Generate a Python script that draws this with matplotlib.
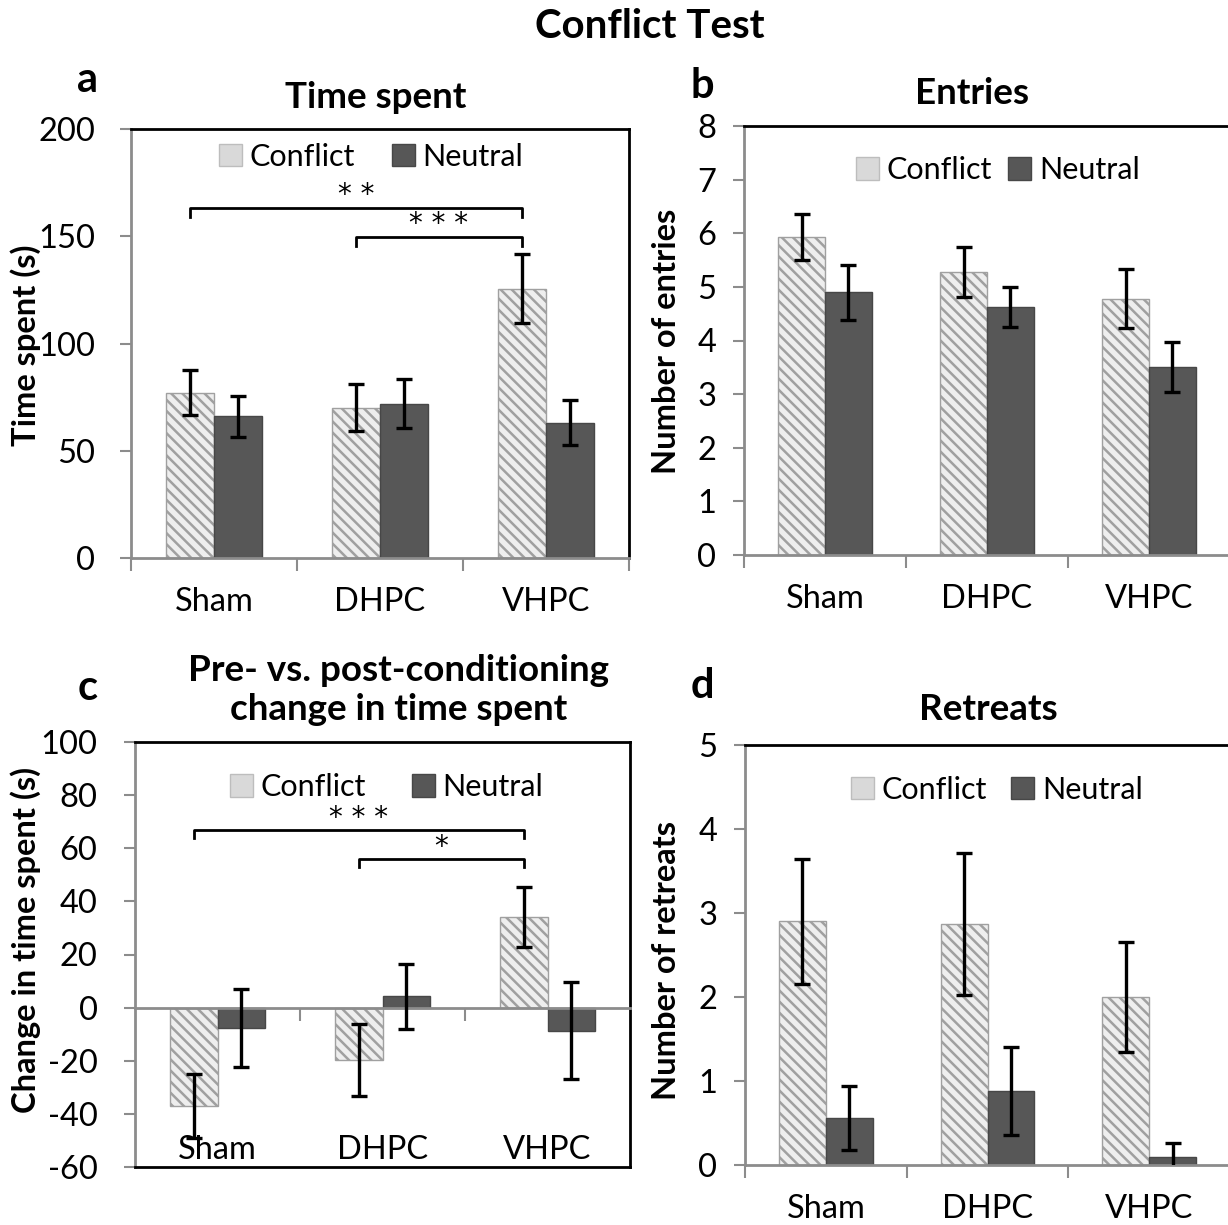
import matplotlib
matplotlib.use('Agg')
import matplotlib.pyplot as plt
from matplotlib.patches import Patch
import numpy as np

plt.rcParams['font.family'] = ['Lato', 'DejaVu Sans']
plt.rcParams['hatch.linewidth'] = 1.8
plt.rcParams['axes.unicode_minus'] = False

groups = ['Sham', 'DHPC', 'VHPC']
series = ['Conflict', 'Neutral']

time_conflict = [77, 70, 125.5]
time_conflict_err = [10.5, 11, 16]
time_neutral = [66, 72, 63]
time_neutral_err = [9.5, 11.5, 10.5]

entries_conflict = [5.93, 5.28, 4.78]
entries_conflict_err = [0.42, 0.47, 0.55]
entries_neutral = [4.90, 4.63, 3.51]
entries_neutral_err = [0.51, 0.37, 0.47]

change_conflict = [-37.0, -19.7, 34.2]
change_conflict_err = [12.2, 13.5, 11.3]
change_neutral = [-7.7, 4.2, -8.7]
change_neutral_err = [14.7, 12.1, 18.3]

retreats_conflict = [2.90, 2.87, 2.00]
retreats_conflict_err = [0.74, 0.85, 0.65]
retreats_neutral = [0.56, 0.88, 0.10]
retreats_neutral_err = [0.38, 0.52, 0.16]

# significance brackets: (group from, group to, height, label)
sig_time = [(0, 2, 163, '**'), (1, 2, 149.6, '***')]
sig_change = [(0, 2, 66.9, '***'), (1, 2, 56.0, '*')]

W, H = 1228, 1225
fig = plt.figure(figsize=(W / 100, H / 100), dpi=100)


def box(l, t, r, b):
    return [l / W, 1 - b / H, (r - l) / W, (b - t) / H]


GREY = '#8c8c8c'
C_FACE = '#eeeeee'
C_HATCH = '#a0a0a0'
N_FACE = '#575757'
BW = 0.29
TICK_FS = 23.5
CAT_FS = 23.5
TITLE_FS = 26.5
YLAB_FS = 23.5


def panel(rect, cv, ce, nv, ne, ylim, yticks, ypad, leg_xy, colsp, zero_axis=False):
    ax = fig.add_axes(rect)
    x = np.arange(len(groups))
    ax.bar(x - BW / 2, cv, BW, color=C_FACE, edgecolor=C_HATCH, hatch='\\\\\\', lw=1, zorder=2)
    ax.bar(x + BW / 2, nv, BW, color=N_FACE, edgecolor='#474747', lw=1, zorder=2)
    ax.errorbar(x - BW / 2, cv, yerr=ce, fmt='none', ecolor='k', elinewidth=2.4,
                capsize=6, capthick=2.4, zorder=3)
    ax.errorbar(x + BW / 2, nv, yerr=ne, fmt='none', ecolor='k', elinewidth=2.4,
                capsize=6, capthick=2.4, zorder=3)
    ax.set_xlim(-0.5, len(groups) - 0.5)
    ax.set_ylim(*ylim)
    ax.set_yticks(yticks)
    ax.tick_params(axis='y', direction='out', length=8, width=1.5, color=GREY,
                   labelsize=TICK_FS, pad=ypad)
    for s in ['top', 'right']:
        ax.spines[s].set_color('k')
        ax.spines[s].set_linewidth(2)
    for s in ['left', 'bottom']:
        ax.spines[s].set_color(GREY)
        ax.spines[s].set_linewidth(2)
    ax.set_xticks(np.arange(len(groups) + 1) - 0.5)
    ax.set_xticklabels([])
    ax.tick_params(axis='x', which='major', direction='out', length=9, width=1.5, color=GREY)
    if zero_axis:
        ax.spines['bottom'].set_position(('data', 0))
        ax.set_xticks([0.5, 1.5])
        ax.set_xticklabels([])
        ax.plot([0, 1], [0, 0], transform=ax.transAxes, color='k', lw=2, clip_on=False, zorder=5)
    else:
        ax.set_xticks(x, minor=True)
        ax.set_xticklabels(groups, minor=True)
        ax.tick_params(axis='x', which='minor', length=0, labelsize=CAT_FS, pad=21)
    handles = [Patch(facecolor='#d9d9d9', edgecolor='#bdbdbd'),
               Patch(facecolor=N_FACE, edgecolor='#474747')]
    ax.legend(handles, series, loc='center', bbox_to_anchor=leg_xy, ncol=2, frameon=False,
              fontsize=22, handlelength=0.75, handleheight=0.75, handletextpad=0.25,
              columnspacing=colsp, borderpad=0)
    return ax


def brackets(ax, sigs, drop, star_off):
    for g0, g1, h, lab in sigs:
        x0, x1 = g0 - BW / 2, g1 - BW / 2
        ax.plot([x0, x0, x1, x1], [h - drop, h, h, h - drop], color='k', lw=2, zorder=4)
        ax.text((x0 + x1) / 2, h + star_off, ' '.join(lab) if len(lab) > 1 else lab,
                ha='center', va='center', fontsize=20, family='DejaVu Sans')


ax_a = panel(box(131, 129, 629, 558), time_conflict, time_conflict_err, time_neutral,
             time_neutral_err, (0, 200), np.arange(0, 201, 50), 18, (0.482, 0.935), 1.2)
brackets(ax_a, sig_time, 4, 6)

ax_b = panel(box(744, 126, 1230, 555), entries_conflict, entries_conflict_err, entries_neutral,
             entries_neutral_err, (0, 8), np.arange(0, 9, 1), 12, (0.522, 0.897), 0.55)

ax_c = panel(box(135, 742, 630, 1167), change_conflict, change_conflict_err, change_neutral,
             change_neutral_err, (-60, 100), np.arange(-60, 101, 20), 19, (0.508, 0.894), 1.5,
             zero_axis=True)
brackets(ax_c, sig_change, 3, 4.5)
for i, g in enumerate(groups):
    ax_c.text(i, -53.7, g, ha='center', va='center', fontsize=CAT_FS, zorder=1)

ax_d = panel(box(745, 745, 1230, 1165), retreats_conflict, retreats_conflict_err, retreats_neutral,
             retreats_neutral_err, (0, 5), np.arange(0, 6, 1), 12, (0.519, 0.893), 0.8)


def ftext(xp, yp, s, **kw):
    fig.text(xp / W, 1 - yp / H, s, ha='center', va='center', **kw)


ftext(650, 27, 'Conflict Test', fontsize=29, fontweight='bold')
ftext(88, 80, 'a', fontsize=30, fontweight='bold')
ftext(702, 86, 'b', fontsize=30, fontweight='bold')
ftext(88, 688, 'c', fontsize=30, fontweight='bold')
ftext(702, 686, 'd', fontsize=30, fontweight='bold')
ftext(376, 97, 'Time spent', fontsize=TITLE_FS, fontweight='bold')
ftext(972, 93, 'Entries', fontsize=TITLE_FS, fontweight='bold')
ftext(399, 690, 'Pre- vs. post-conditioning\nchange in time spent', fontsize=TITLE_FS,
      fontweight='bold', linespacing=1.25)
ftext(988, 710, 'Retreats', fontsize=TITLE_FS, fontweight='bold')
ftext(26, 345, 'Time spent (s)', fontsize=YLAB_FS, fontweight='bold', rotation=90)
ftext(666, 341, 'Number of entries', fontsize=YLAB_FS, fontweight='bold', rotation=90)
ftext(26, 940, 'Change in time spent (s)', fontsize=YLAB_FS, fontweight='bold', rotation=90)
ftext(666, 961, 'Number of retreats', fontsize=YLAB_FS, fontweight='bold', rotation=90)

fig.savefig('out.png', dpi=100)
